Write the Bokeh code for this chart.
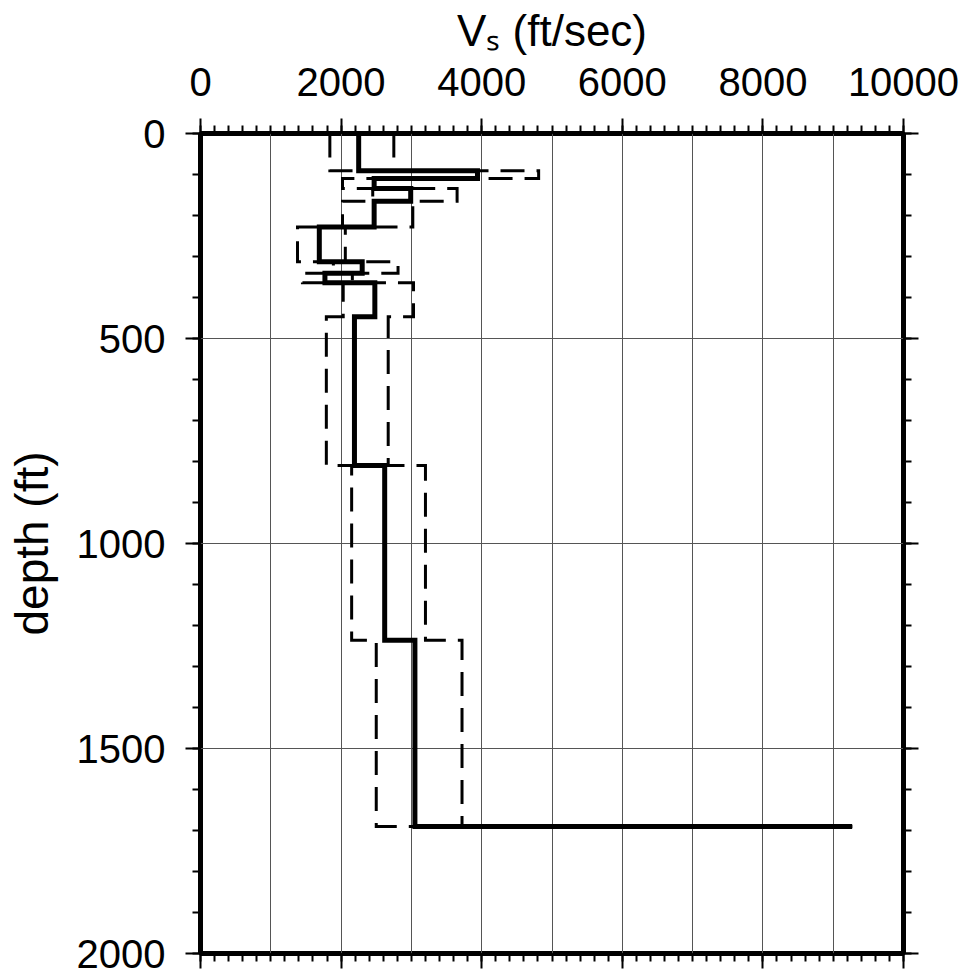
from bokeh.plotting import figure
from bokeh.models import (Range1d, FixedTicker, LinearAxis, CustomJSTickFormatter)
from bokeh.embed import file_html
from bokeh.resources import INLINE

# ---- data ----
layer_top_ft = [0, 91, 110, 134, 165, 228, 313, 341, 364, 447, 810, 1236, 1690]
vs_median = [2250, 3940, 2470, 2990, 2470, 1690, 2300, 1770, 2480, 2190, 2620, 3050, 9270]
vs_lower = [1840, 3230, 2020, 2450, 2020, 1380, 1890, 1450, 2030, 1790, 2150, 2500, 9270]
vs_upper = [2750, 4810, 3020, 3650, 3020, 2060, 2810, 2160, 3030, 2670, 3200, 3720, 9270]

x_major = [0, 2000, 4000, 6000, 8000, 10000]
x_minor = list(range(0, 10001, 200))
x_grid = list(range(0, 10001, 1000))
y_major = [0, 500, 1000, 1500, 2000]
y_minor = list(range(0, 2001, 100))

x_title = "V\u209b (ft/sec)"
y_title = "depth (ft)"

FONT = "Liberation Sans"


def step_path(tops, vel):
    xs, ys = [], []
    n = len(vel)
    for i in range(n - 1):
        xs += [vel[i], vel[i]]
        ys += [tops[i], tops[i + 1]]
    xs.append(vel[-1])
    ys.append(tops[-1])
    return xs, ys


p = figure(width=967, height=974, output_backend="svg", toolbar_location=None,
           x_range=Range1d(0, 10000), y_range=Range1d(2000, 0),
           x_axis_location="above", y_axis_location="left",
           min_border_left=200, min_border_right=64,
           min_border_top=133, min_border_bottom=21)
p.background_fill_color = "white"
p.border_fill_color = "white"
p.outline_line_color = "black"
p.outline_line_width = 5

# grids
p.xgrid.ticker = FixedTicker(ticks=x_grid)
p.ygrid.ticker = FixedTicker(ticks=y_major)
for g in (p.xgrid, p.ygrid):
    g.grid_line_color = "#555555"
    g.grid_line_width = 1

blank = CustomJSTickFormatter(code="return ''")


def style_axis(ax, major, minor, labels=True):
    ax.ticker = FixedTicker(ticks=major, minor_ticks=minor)
    ax.axis_line_color = None
    ax.major_tick_line_color = "black"
    ax.minor_tick_line_color = "black"
    ax.major_tick_line_width = 2
    ax.minor_tick_line_width = 2
    ax.major_tick_out = 15
    ax.major_tick_in = 0
    ax.minor_tick_out = 8
    ax.minor_tick_in = 0
    ax.major_label_text_font = FONT
    ax.major_label_text_font_size = "40px"
    ax.major_label_text_color = "black"
    ax.axis_label_text_font = FONT
    ax.axis_label_text_font_style = "normal"
    ax.axis_label_text_color = "black"
    if not labels:
        ax.formatter = blank


top = p.xaxis[0]
style_axis(top, x_major, x_minor)
top.major_label_standoff = 23
top.axis_label = x_title
top.axis_label_text_font_size = "44px"
top.axis_label_standoff = 10

left = p.yaxis[0]
style_axis(left, y_major, y_minor)
left.major_label_standoff = 20
left.axis_label = y_title
left.axis_label_text_font_size = "46px"
left.axis_label_standoff = 16

bottom = LinearAxis()
style_axis(bottom, x_major, x_minor, labels=False)
p.add_layout(bottom, "below")

right = LinearAxis()
style_axis(right, y_major, y_minor, labels=False)
p.add_layout(right, "right")

# profiles
xl, yl = step_path(layer_top_ft, vs_lower)
xu, yu = step_path(layer_top_ft, vs_upper)
xm, ym = step_path(layer_top_ft, vs_median)
for xs, ys in ((xl, yl), (xu, yu)):
    p.line(xs, ys, line_color="black", line_width=3, line_dash="24 12",
           line_join="miter", line_cap="butt")
p.line(xm, ym, line_color="black", line_width=5, line_join="miter", line_cap="butt")

open("out.html", "w").write(file_html(p, INLINE))
